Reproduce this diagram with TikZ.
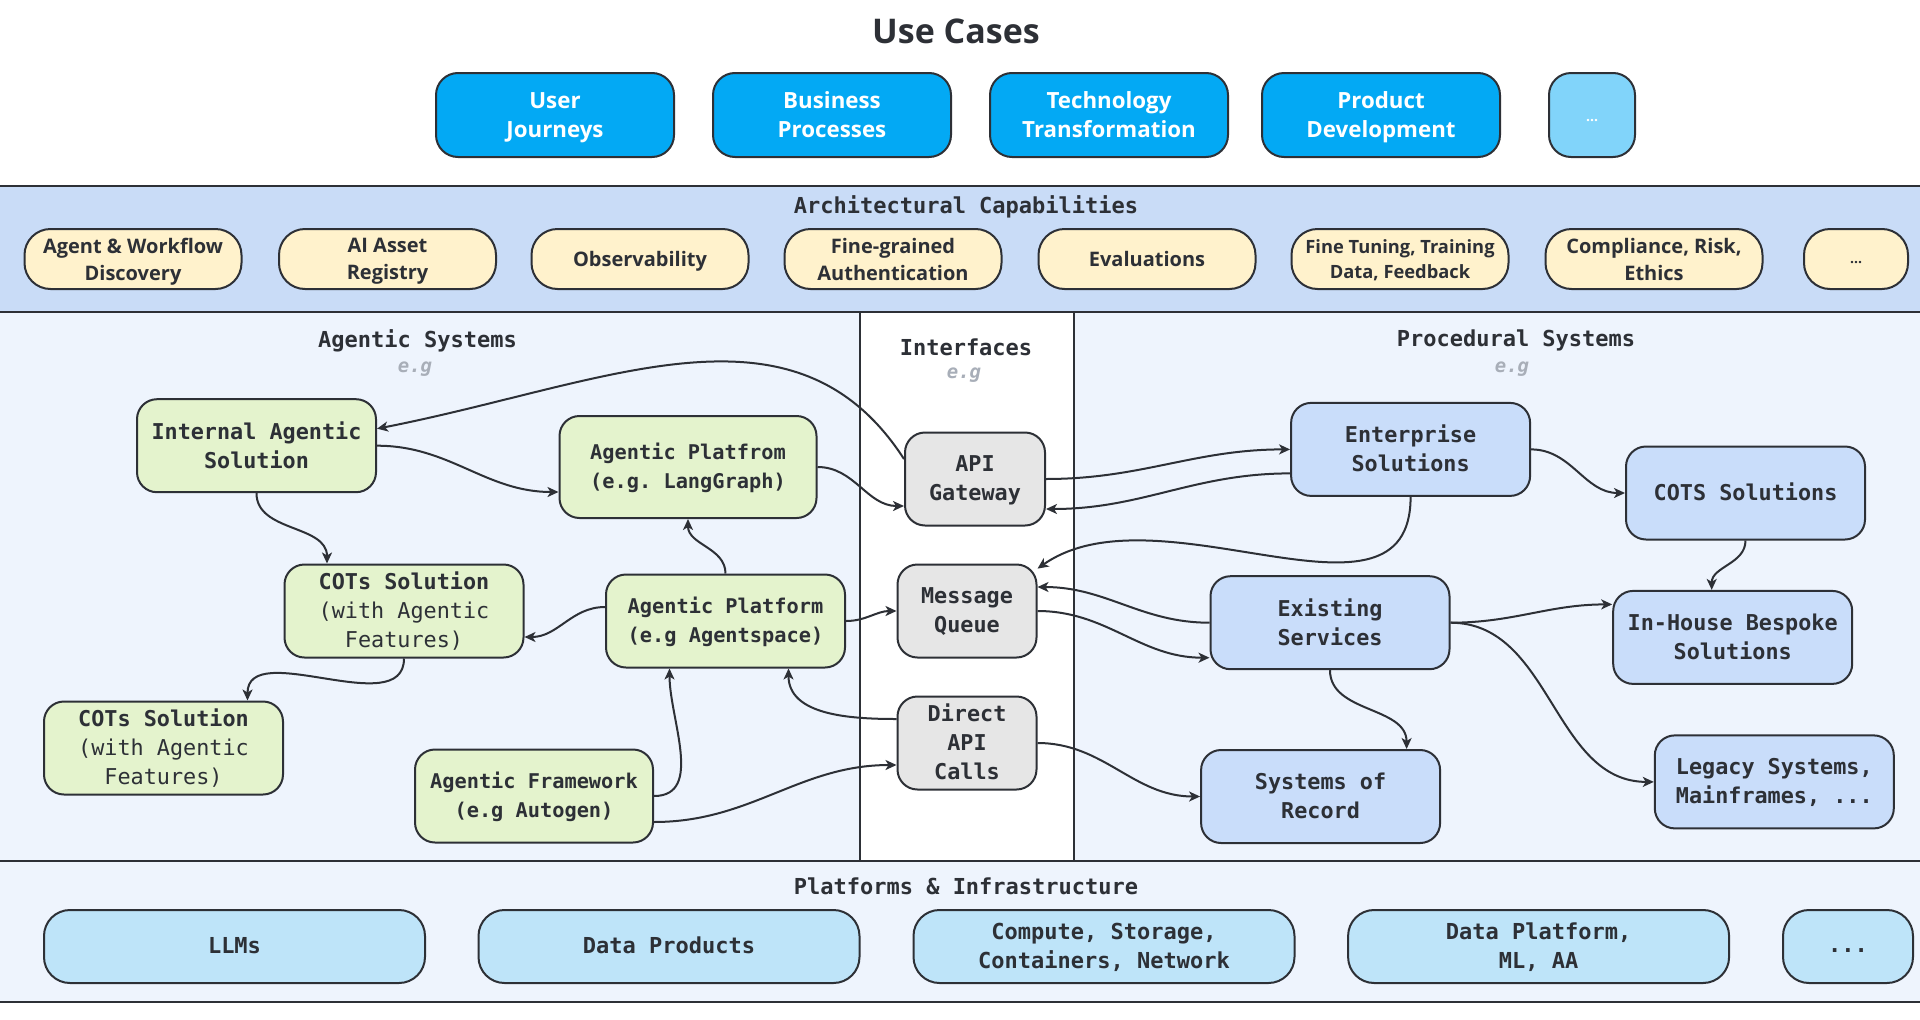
\documentclass[tikz,border=0pt]{standalone}
\usepackage{fontspec}
\setsansfont{Open Sans}
\setmonofont{DejaVu Sans Mono}
\usetikzlibrary{arrows.meta}
\definecolor{ink}{RGB}{45,48,54}
\definecolor{ucblue}{RGB}{3,169,244}
\definecolor{ucpale}{RGB}{129,212,250}
\definecolor{capfill}{RGB}{255,242,204}
\definecolor{archfill}{RGB}{201,220,247}
\definecolor{regfill}{RGB}{238,244,253}
\definecolor{agentfill}{RGB}{228,243,205}
\definecolor{ifacefill}{RGB}{230,230,230}
\definecolor{procfill}{RGB}{201,221,250}
\definecolor{infrafill}{RGB}{190,228,249}
\definecolor{egcol}{RGB}{168,174,184}
\begin{document}
\begin{tikzpicture}[x=1pt,y=-1pt,
  box/.style={draw=ink,line width=2pt,rounded corners=20pt,align=center,inner sep=0pt,text=ink},
  mono/.style={font=\ttfamily\bfseries\fontsize{21.8}{29}\selectfont,text depth=2pt},
  small/.style={font=\ttfamily\bfseries\fontsize{20.3}{29}\selectfont},
  usecase/.style={box,fill=ucblue,text=white,minimum width=238pt,minimum height=84pt,rounded corners=22pt,text depth=0pt,font=\sffamily\bfseries\fontsize{22.3}{29}\selectfont},
  capbox/.style={box,fill=capfill,minimum width=217pt,minimum height=60pt,rounded corners=26pt,text depth=0pt,font=\sffamily\bfseries\fontsize{20}{27}\selectfont},
  infrabox/.style={box,fill=infrafill,minimum width=381pt,minimum height=73pt,rounded corners=26pt,text depth=2pt,font=\ttfamily\bfseries\fontsize{22}{29}\selectfont},
  agent/.style={box,mono,fill=agentfill,minimum width=239pt,minimum height=93pt},
  iface/.style={box,mono,fill=ifacefill,minimum width=139pt,minimum height=93pt},
  proc/.style={box,mono,fill=procfill,minimum width=239pt,minimum height=93pt},
  heading/.style={text=ink,font=\ttfamily\bfseries\fontsize{22}{25}\selectfont},
  eg/.style={text=egcol,font=\ttfamily\bfseries\itshape\fontsize{19}{22}\selectfont},
  sep/.style={draw=ink,line width=2.5pt},
  flow/.style={draw=ink,line width=2pt,-{Stealth[length=11pt,width=10pt,inset=3pt]}}]
\useasboundingbox (0,0) rectangle (1920,1020);
% bands
\fill[archfill] (0,186) rectangle (1920,312);
\fill[regfill] (0,312) rectangle (860,861);
\fill[white] (860,312) rectangle (1074,861);
\fill[regfill] (1074,312) rectangle (1920,861);
\fill[regfill] (0,861) rectangle (1920,1002);
\draw[sep] (0,186)--(1920,186) (0,312)--(1920,312) (0,861)--(1920,861) (0,1002)--(1920,1002);
\draw[sep] (860,312)--(860,861) (1074,312)--(1074,861);
% use cases
\node[text=ink,font=\sffamily\bfseries\fontsize{34}{40}\selectfont] (title) at (956,31) {Use Cases};
\foreach \x/\n/\t in {555/uj/{User\\Journeys},832/bp/{Business\\Processes},1109/tt/{Technology\\Transformation},1381/pd/{Product\\Development}}
  \node[usecase] (\n) at (\x,115) {\t};
\node[usecase,fill=ucpale,minimum width=86pt,text height=12pt,font=\sffamily\bfseries\fontsize{14}{16}\selectfont] (ucmore) at (1592,115) {...};
% capabilities
\node[heading] (archt) at (966,206.5) {Architectural Capabilities};
\foreach \x/\n/\t in {133/cap1/{Agent \& Workflow\\Discovery},387.5/cap2/{AI Asset\\Registry},640/cap3/{Observability},893/cap4/{Fine-grained\\Authentication},1147/cap5/{Evaluations},1654/cap7/{Compliance, Risk,\\Ethics}}
  \node[capbox] (\n) at (\x,259) {\t};
\node[capbox,font=\sffamily\bfseries\fontsize{18.3}{25}\selectfont] (cap6) at (1400,259) {Fine Tuning, Training\\Data, Feedback};
\node[capbox,minimum width=104pt,text height=9pt,font=\sffamily\bfseries\fontsize{14}{16}\selectfont] (capmore) at (1856,259) {...};
% section headings
\node[heading] (agt) at (417.5,340.5) {Agentic Systems};
\node[eg] (agteg) at (415,369.5) {e.g};
\node[heading] (ift) at (966,347) {Interfaces};
\node[eg] (ifteg) at (964,375) {e.g};
\node[heading] (prt) at (1516,340.5) {Procedural Systems};
\node[eg] (prteg) at (1512,369.5) {e.g};
% agentic systems
\node[agent] (ias) at (256.5,445.7) {Internal Agentic\\Solution};
\node[agent,small,minimum width=257pt,minimum height=102pt] (apl) at (688,467) {Agentic Platfrom\\(e.g. LangGraph)};
\node[agent] (cot1) at (404,611) {COTs Solution\\{\mdseries(with Agentic}\\{\mdseries Features)}};
\node[agent,small] (apa) at (725.5,621) {Agentic Platform\\(e.g Agentspace)};
\node[agent] (cot2) at (163.5,748) {COTs Solution\\{\mdseries(with Agentic}\\{\mdseries Features)}};
\node[agent,small,minimum width=238pt] (afw) at (534,796) {Agentic Framework\\(e.g Autogen)};
% interfaces
\node[iface,minimum width=140pt] (apig) at (975,479) {API\\Gateway};
\node[iface] (mq) at (967,611) {Message\\Queue};
\node[iface] (dac) at (967,743) {Direct\\API\\Calls};
% procedural systems
\node[proc] (ent) at (1410.6,449.4) {Enterprise\\Solutions};
\node[proc] (cots) at (1745.5,493) {COTS Solutions};
\node[proc] (exs) at (1330,622.7) {Existing\\Services};
\node[proc] (ihb) at (1732.7,637.4) {In-House Bespoke\\Solutions};
\node[proc] (sor) at (1320.6,796.5) {Systems of\\Record};
\node[proc] (leg) at (1774.3,781.9) {Legacy Systems,\\Mainframes, ...};
% platforms
\node[heading] (inft) at (966,886) {Platforms \& Infrastructure};
\foreach \x/\n/\t in {234.5/llm/{LLMs},669/dp/{Data Products},1104/csc/{Compute, Storage,\\Containers, Network},1538.6/dpl/{Data Platform,\\ML, AA}}
  \node[infrabox] (\n) at (\x,946.5) {\t};
\node[infrabox,minimum width=130pt,text height=11pt,text depth=0pt] (infmore) at (1848,946.5) {...};
% connectors
\draw[flow] ([yshift=20pt]apig.west) .. controls +(-110,-170) and +(230,-45) .. ([yshift=17pt]ias.east);
\draw[flow] (ias.east) to[out=0,in=180] ([yshift=-25pt]apl.west);
\draw[flow] (ias.south) to[out=-90,in=90] ([xshift=-77pt]cot1.north);
\draw[flow] (apl.east) to[out=0,in=180] ([yshift=-27pt]apig.west);
\draw[flow] (apa.north) to[out=90,in=-90] (apl.south);
\draw[flow] ([yshift=14pt]apa.west) to[out=180,in=0] ([yshift=-26pt]cot1.east);
\draw[flow] (cot1.south) to[out=-90,in=90] ([xshift=84pt]cot2.north);
\draw[flow] (apa.east) to[out=0,in=180] (mq.west);
\draw[flow] (afw.east) to[out=0,in=-90] ([xshift=-56pt]apa.south);
\draw[flow] ([yshift=24pt]dac.west) to[out=180,in=-90] ([xshift=63pt]apa.south);
\draw[flow] ([yshift=-26pt]afw.east) to[out=0,in=180] ([yshift=-22pt]dac.west);
\draw[flow] (apig.east) to[out=0,in=180] (ent.west);
\draw[flow] ([yshift=-24pt]ent.west) to[out=180,in=0] ([yshift=-30pt]apig.east);
\draw[flow] (ent.south) to[out=-90,in=35] (mq.31);
\draw[flow] (ent.east) to[out=0,in=180] (cots.west);
\draw[flow] (cots.south) to[out=-90,in=90] ([xshift=-21pt]ihb.north);
\draw[flow] (exs.west) to[out=180,in=0] ([yshift=24pt]mq.east);
\draw[flow] (mq.east) to[out=0,in=180] ([yshift=-35pt]exs.west);
\draw[flow] (exs.east) to[out=0,in=180] ([yshift=33pt]ihb.west);
\draw[flow] (exs.south) to[out=-90,in=90] ([xshift=86pt]sor.north);
\draw[flow] (exs.east) to[out=0,in=180] (leg.west);
\draw[flow] (dac.east) to[out=0,in=180] (sor.west);
\end{tikzpicture}
\end{document}
